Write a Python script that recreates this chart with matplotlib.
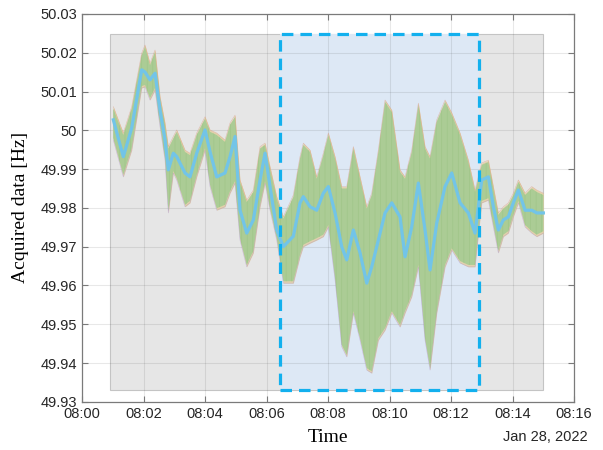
import matplotlib
matplotlib.use("Agg")
import matplotlib.pyplot as plt
from matplotlib.patches import Rectangle
import numpy as np

# minutes after 08:00
minutes = [1.018, 1.343, 1.616, 1.941, 2.049, 2.211, 2.374, 2.537, 2.699, 2.807,
           2.969, 3.080, 3.350, 3.512, 3.730, 4.000, 4.163, 4.380, 4.650, 4.813,
           4.976, 5.138, 5.356, 5.571, 5.789, 5.951, 6.114, 6.332, 6.546, 6.872,
           7.089, 7.197, 7.415, 7.632, 7.847, 8.010, 8.228, 8.445, 8.608, 8.823,
           9.041, 9.259, 9.421, 9.636, 9.854, 10.072, 10.341, 10.504, 10.722, 10.937,
           11.154, 11.317, 11.535, 11.805, 12.023, 12.293, 12.563, 12.780, 12.998, 13.213,
           13.376, 13.538, 13.701, 13.863, 14.026, 14.189, 14.407, 14.624, 14.787, 15.002]

# mean of the acquired traces [Hz]
freq_mean = [50.0027, 49.9932, 50.0006, 50.0156, 50.0150, 50.0130, 50.0147, 50.0052, 49.9975, 49.9898,
             49.9941, 49.9932, 49.9890, 49.9880, 49.9941, 50.0001, 49.9945, 49.9880, 49.9890, 49.9932,
             49.9984, 49.9794, 49.9735, 49.9769, 49.9872, 49.9941, 49.9855, 49.9743, 49.9700, 49.9727,
             49.9813, 49.9829, 49.9803, 49.9794, 49.9838, 49.9855, 49.9787, 49.9700, 49.9666, 49.9743,
             49.9684, 49.9606, 49.9648, 49.9717, 49.9787, 49.9813, 49.9777, 49.9674, 49.9751, 49.9864,
             49.9743, 49.9640, 49.9761, 49.9855, 49.9890, 49.9813, 49.9787, 49.9735, 49.9872, 49.9880,
             49.9803, 49.9743, 49.9769, 49.9777, 49.9813, 49.9846, 49.9794, 49.9794, 49.9787, 49.9787]

# spread of the traces (max / min) [Hz]
freq_max = [50.0061, 49.9993, 50.0061, 50.0199, 50.0220, 50.0173, 50.0207, 50.0087, 50.0019, 49.9958,
            49.9984, 50.0001, 49.9949, 49.9941, 49.9993, 50.0035, 50.0001, 49.9993, 49.9975, 50.0019,
            50.0039, 49.9872, 49.9820, 49.9846, 49.9958, 49.9967, 49.9906, 49.9829, 49.9777, 49.9833,
            49.9932, 49.9967, 49.9949, 49.9880, 49.9941, 49.9993, 49.9932, 49.9855, 49.9855, 49.9958,
            49.9880, 49.9803, 49.9838, 49.9949, 50.0078, 50.0052, 49.9898, 49.9880, 49.9949, 50.0070,
            49.9958, 49.9932, 50.0027, 50.0078, 50.0045, 49.9993, 49.9923, 49.9846, 49.9916, 49.9923,
            49.9855, 49.9787, 49.9803, 49.9813, 49.9838, 49.9872, 49.9838, 49.9855, 49.9846, 49.9838]

freq_min = [49.9975, 49.9880, 49.9949, 50.0109, 50.0112, 50.0078, 50.0104, 50.0009, 49.9923, 49.9787,
            49.9890, 49.9872, 49.9803, 49.9813, 49.9880, 49.9949, 49.9855, 49.9794, 49.9803, 49.9838,
            49.9864, 49.9717, 49.9648, 49.9684, 49.9803, 49.9864, 49.9794, 49.9717, 49.9606, 49.9606,
            49.9674, 49.9700, 49.9709, 49.9717, 49.9726, 49.9751, 49.9614, 49.9442, 49.9416, 49.9529,
            49.9459, 49.9382, 49.9374, 49.9459, 49.9485, 49.9529, 49.9493, 49.9529, 49.9571, 49.9648,
            49.9459, 49.9382, 49.9529, 49.9648, 49.9691, 49.9658, 49.9648, 49.9648, 49.9813, 49.9820,
            49.9751, 49.9684, 49.9726, 49.9735, 49.9777, 49.9813, 49.9751, 49.9735, 49.9726, 49.9735]

# measurement window and highlighted interval (minutes, Hz)
window = [0.91, 15.0, 49.933, 50.0248]
event = [6.44, 12.92, 49.933, 50.0248]

xtick_pos = [0, 2, 4, 6, 8, 10, 12, 14, 16]
xtick_labels = ['08:00', '08:02', '08:04', '08:06', '08:08', '08:10', '08:12', '08:14', '08:16']
ytick_pos = [49.93, 49.94, 49.95, 49.96, 49.97, 49.98, 49.99, 50.0, 50.01, 50.02, 50.03]
ytick_labels = ['49.93', '49.94', '49.95', '49.96', '49.97', '49.98', '49.99', '50', '50.01', '50.02', '50.03']

plt.rcParams['font.family'] = ['Liberation Sans', 'DejaVu Sans']
plt.rcParams['hatch.linewidth'] = 0.5

fig = plt.figure(figsize=(6.03, 4.5), dpi=100)
ax = fig.add_axes([0.136, 0.107, 0.816, 0.862])

ax.add_patch(Rectangle((window[0], window[2]), window[1] - window[0], window[3] - window[2],
                       facecolor='#e6e6e6', edgecolor='#c4c4c4', lw=0.8, zorder=0.2))
ax.add_patch(Rectangle((event[0], event[2]), event[1] - event[0], event[3] - event[2],
                       facecolor='#dde8f5', edgecolor='none', zorder=0.3))

t = np.array(minutes)
lo = np.array(freq_min)
hi = np.array(freq_max)
# outer fringe of the traces, then the dense green band with a faint vertical stripe texture
ax.fill_between(t, lo, hi, color='#e3cc9c', lw=0, alpha=0.8, zorder=2)
ax.fill_between(t, lo + 0.0005, hi - 0.0005, facecolor='#abcc95', edgecolor='#a0c589',
                hatch='|||', lw=0, zorder=3)
ax.plot(t, hi, color='#d9906e', lw=0.4, alpha=0.5, zorder=3)
ax.plot(t, lo, color='#a98bc4', lw=0.4, alpha=0.5, zorder=3)
ax.plot(t, freq_mean, color='#72c4e8', lw=2.3, zorder=4)

ax.add_patch(Rectangle((event[0], event[2]), event[1] - event[0], event[3] - event[2],
                       facecolor='none', edgecolor='#12b0ee', lw=2.3,
                       linestyle=(0, (3.6, 2.2)), zorder=5))

ax.set_xlim(0, 16)
ax.set_ylim(49.93, 50.03)
ax.set_xticks(xtick_pos)
ax.set_xticklabels(xtick_labels)
ax.set_yticks(ytick_pos)
ax.set_yticklabels(ytick_labels)
ax.tick_params(direction='in', top=True, right=True, labelsize=10.5,
               colors='#7a7a7a', labelcolor='#262626', length=4, width=0.8)
ax.grid(True, color='#262626', alpha=0.1, lw=0.8)
ax.set_axisbelow(True)
for s in ax.spines.values():
    s.set_color('#7a7a7a')
    s.set_linewidth(0.9)

ax.set_xlabel('Time', family=['Liberation Serif', 'DejaVu Serif'], fontsize=14, labelpad=6)
ax.set_ylabel('Acquired data [Hz]', family=['Liberation Serif', 'DejaVu Serif'], fontsize=14, labelpad=8)
fig.text(0.905, 0.028, 'Jan 28, 2022', ha='center', va='center', fontsize=10.5, color='#262626')

fig.savefig('out.png', dpi=100)
